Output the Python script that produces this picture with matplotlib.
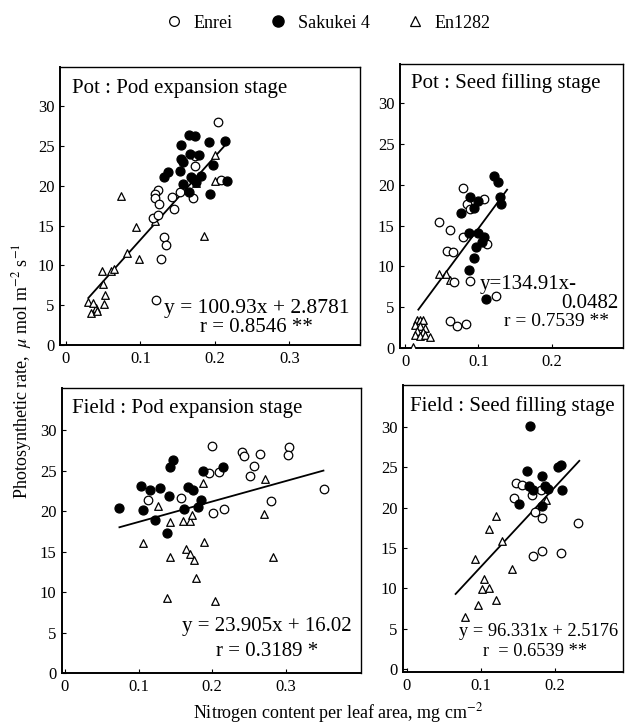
import matplotlib
matplotlib.use('Agg')
import matplotlib.pyplot as plt
from matplotlib.lines import Line2D

plt.rcParams['font.family'] = ['Liberation Serif', 'DejaVu Serif']
plt.rcParams['mathtext.fontset'] = 'stix'

# ---------------- data ----------------
legend_labels = ["Enrei", "Sakukei 4", "En1282"]

# Pot : Pod expansion stage
pp_enrei_x = [0.204, 0.173, 0.208, 0.124, 0.119, 0.119, 0.125, 0.143, 0.145, 0.153, 0.171, 0.117, 0.124, 0.132, 0.134, 0.128, 0.121, 0.173]
pp_enrei_y = [28.0, 22.5, 20.7, 19.5, 18.9, 18.5, 17.7, 18.6, 17.1, 19.2, 18.5, 16.0, 16.3, 13.5, 12.5, 10.8, 5.7, 23.7]
pp_sak_x = [0.1655, 0.173, 0.155, 0.192, 0.214, 0.1665, 0.179, 0.155, 0.157, 0.198, 0.1365, 0.132, 0.153, 0.168, 0.182, 0.171, 0.1575, 0.1655, 0.194, 0.217, 0.1745]
pp_sak_y = [26.4, 26.2, 25.1, 25.5, 25.6, 24.0, 23.9, 23.4, 23.0, 22.6, 21.7, 21.1, 21.8, 21.1, 21.2, 20.8, 20.2, 19.2, 19.0, 20.6, 20.5]
pp_en_x = [0.0734, 0.094, 0.098, 0.0815, 0.049, 0.060, 0.064, 0.050, 0.052, 0.051, 0.040, 0.033, 0.030, 0.036, 0.042, 0.200, 0.200, 0.175, 0.186, 0.119]
pp_en_y = [18.7, 14.8, 10.75, 11.6, 9.3, 9.3, 9.5, 7.65, 6.3, 5.2, 4.6, 4.05, 5.35, 5.3, 4.3, 23.8, 20.6, 20.3, 13.7, 15.6]
pp_fit_x = [0.030, 0.213]
pp_fit_y = [5.9, 25.0]

# Pot : Seed filling stage
ps_enrei_x = [0.0787, 0.084, 0.0887, 0.107, 0.0455, 0.0605, 0.0787, 0.0577, 0.065, 0.0668, 0.0878, 0.111, 0.124, 0.0605, 0.0705, 0.083]
ps_enrei_y = [19.6, 17.7, 17.0, 18.2, 15.4, 14.5, 13.6, 11.9, 11.8, 8.1, 8.25, 12.8, 6.4, 3.35, 2.7, 3.0]
ps_sak_x = [0.1205, 0.126, 0.0887, 0.0987, 0.094, 0.076, 0.1287, 0.131, 0.0864, 0.0987, 0.107, 0.1046, 0.097, 0.094, 0.0864, 0.1105]
ps_sak_y = [21.1, 20.4, 18.5, 18.05, 17.1, 16.5, 18.5, 17.7, 14.05, 14.1, 13.6, 13.0, 12.4, 11.0, 9.6, 5.96]
ps_en_x = [0.0468, 0.056, 0.0614, 0.016, 0.0205, 0.025, 0.0138, 0.0205, 0.027, 0.016, 0.024, 0.0138, 0.0205, 0.027, 0.034, 0.0113]
ps_en_y = [9.07, 9.07, 8.3, 3.43, 3.43, 3.4, 2.8, 2.65, 2.45, 2.1, 2.0, 1.6, 1.5, 1.6, 1.3, 0.16]
ps_fit_x = [0.018, 0.139]
ps_fit_y = [4.7, 19.4]

# Field : Pod expansion stage
fp_enrei_x = [0.199, 0.113, 0.158, 0.196, 0.2094, 0.201, 0.216, 0.241, 0.243, 0.2646, 0.257, 0.251, 0.304, 0.303, 0.2795, 0.352]
fp_enrei_y = [28.0, 21.4, 21.6, 24.65, 24.85, 19.7, 20.2, 27.3, 26.8, 27.1, 25.6, 24.3, 27.9, 26.9, 21.3, 22.75]
fp_sak_x = [0.0728, 0.1027, 0.1153, 0.1063, 0.122, 0.129, 0.141, 0.147, 0.1425, 0.139, 0.167, 0.174, 0.162, 0.181, 0.1845, 0.1877, 0.215]
fp_sak_y = [20.4, 23.1, 22.6, 20.1, 18.9, 22.8, 21.8, 26.3, 25.5, 17.3, 23.0, 22.6, 20.3, 20.5, 21.4, 24.9, 25.5]
fp_en_x = [0.126, 0.1877, 0.1425, 0.1605, 0.1696, 0.172, 0.1063, 0.1886, 0.1425, 0.165, 0.1696, 0.1755, 0.178, 0.138, 0.2035, 0.271, 0.270, 0.2827]
fp_en_y = [20.65, 23.5, 18.6, 18.8, 18.8, 19.5, 16.0, 16.2, 14.3, 15.3, 14.7, 13.9, 11.7, 9.3, 8.9, 23.9, 19.6, 14.3]
fp_fit_x = [0.074, 0.351]
fp_fit_y = [18.0, 25.0]

# Field : Seed filling stage
fs_enrei_x = [0.148, 0.155, 0.1446, 0.1685, 0.1807, 0.173, 0.182, 0.2307, 0.1707, 0.182, 0.2077]
fs_enrei_y = [23.1, 22.8, 21.15, 21.6, 22.2, 19.4, 18.7, 18.1, 14.0, 14.6, 14.4]
fs_sak_x = [0.166, 0.1626, 0.1833, 0.2077, 0.2045, 0.165, 0.170, 0.1865, 0.191, 0.1518, 0.182, 0.2095]
fs_sak_y = [30.1, 24.5, 23.9, 25.3, 25.0, 22.7, 22.2, 22.7, 22.3, 20.5, 20.2, 22.2]
fs_en_x = [0.120, 0.111, 0.128, 0.0919, 0.142, 0.104, 0.102, 0.111, 0.120, 0.0964, 0.0793, 0.188]
fs_en_y = [19.0, 17.3, 15.9, 13.6, 12.4, 11.2, 9.9, 10.0, 8.55, 7.9, 6.4, 20.9]
fs_fit_x = [0.066, 0.233]
fs_fit_y = [9.3, 25.8]

# ---------------- figure ----------------
W, H = 625, 726
fig = plt.figure(figsize=(W / 100, H / 100), dpi=100)

def fx(px):
    return px / W

def fy(py):
    return 1 - py / H

def make_ax(l, r, t, b, xlim, ylim, xticks):
    ax = fig.add_axes([fx(l), fy(b), (r - l) / W, (b - t) / H])
    ax.set_xlim(*xlim)
    ax.set_ylim(*ylim)
    ax.set_xticks(xticks)
    ax.set_xticklabels(["0" if v == 0 else f"{v:.1f}" for v in xticks])
    ax.set_yticks([0, 5, 10, 15, 20, 25, 30])
    ax.tick_params(direction='in', length=3, width=0.8, labelsize=12, pad=4,
                   top=False, right=False)
    for s in ax.spines.values():
        s.set_linewidth(1.0)
    ax.spines['left'].set_linewidth(1.4)
    ax.spines['bottom'].set_linewidth(1.4)
    return ax

def draw(ax, ex, ey, sx, sy, tx, ty, fitx, fity):
    ax.plot(fitx, fity, color='black', lw=1.3, zorder=2)
    ax.scatter(tx, ty, marker='^', s=30, facecolors='white', edgecolors='black', linewidths=0.9, zorder=3)
    ax.scatter(ex, ey, marker='o', s=38, facecolors='white', edgecolors='black', linewidths=0.9, zorder=3)
    ax.scatter(sx, sy, marker='o', s=42, facecolors='black', edgecolors='black', linewidths=0.9, zorder=4)

ax1 = make_ax(60, 360, 67, 345, (-0.008, 0.395), (0, 34.9), [0, 0.1, 0.2, 0.3])
draw(ax1, pp_enrei_x, pp_enrei_y, pp_sak_x, pp_sak_y, pp_en_x, pp_en_y, pp_fit_x, pp_fit_y)

ax2 = make_ax(400, 623, 64, 348, (-0.007, 0.297), (0, 34.8), [0, 0.1, 0.2])
draw(ax2, ps_enrei_x, ps_enrei_y, ps_sak_x, ps_sak_y, ps_en_x, ps_en_y, ps_fit_x, ps_fit_y)

ax3 = make_ax(62, 361, 388, 673, (-0.004, 0.402), (0, 35.2), [0, 0.1, 0.2, 0.3])
draw(ax3, fp_enrei_x, fp_enrei_y, fp_sak_x, fp_sak_y, fp_en_x, fp_en_y, fp_fit_x, fp_fit_y)

ax4 = make_ax(403, 623, 385, 672, (-0.005, 0.292), (-0.37, 35.2), [0, 0.1, 0.2])
draw(ax4, fs_enrei_x, fs_enrei_y, fs_sak_x, fs_sak_y, fs_en_x, fs_en_y, fs_fit_x, fs_fit_y)

# panel titles
TS = 15
fig.text(fx(72), fy(88), "Pot : Pod expansion stage", fontsize=TS, ha='left', va='center')
fig.text(fx(411), fy(83), "Pot : Seed filling stage", fontsize=TS, ha='left', va='center')
fig.text(fx(72), fy(408), "Field : Pod expansion stage", fontsize=TS, ha='left', va='center')
fig.text(fx(410), fy(406), "Field : Seed filling stage", fontsize=TS, ha='left', va='center')

# equations
fig.text(fx(257), fy(308), "y = 100.93x + 2.8781", fontsize=15.5, ha='center', va='center')
fig.text(fx(256), fy(328), "r = 0.8546 **", fontsize=15, ha='center', va='center')
fig.text(fx(480), fy(285), "y=134.91x-", fontsize=15, ha='left', va='center')
fig.text(fx(618), fy(304), "0.0482", fontsize=15, ha='right', va='center')
fig.text(fx(556), fy(322), "r = 0.7539 **", fontsize=14, ha='center', va='center')
fig.text(fx(267), fy(627), "y = 23.905x + 16.02", fontsize=15, ha='center', va='center')
fig.text(fx(267), fy(651), "r = 0.3189 *", fontsize=15, ha='center', va='center')
fig.text(fx(539), fy(632), "y = 96.331x + 2.5176", fontsize=13.2, ha='center', va='center')
fig.text(fx(535), fy(652), "r  = 0.6539 **", fontsize=13.2, ha='center', va='center')

# axis labels
fig.text(fx(22), fy(371), r"Photosynthetic rate,  $\mu$ mol m$^{-2}$ s$^{-1}$",
         fontsize=13, rotation=90, ha='center', va='center')
fig.text(fx(338), fy(713), r"Nitrogen content per leaf area, mg cm$^{-2}$",
         fontsize=13, ha='center', va='center')

# legend
handles = [
    Line2D([], [], ls='none', marker='o', markersize=7, markerfacecolor='white', markeredgecolor='black', markeredgewidth=0.9),
    Line2D([], [], ls='none', marker='o', markersize=8, markerfacecolor='black', markeredgecolor='black'),
    Line2D([], [], ls='none', marker='^', markersize=7, markerfacecolor='white', markeredgecolor='black', markeredgewidth=0.9),
]
fig.legend(handles, legend_labels, loc='center', bbox_to_anchor=(fx(328), fy(23)), ncol=3,
           frameon=False, fontsize=13, handlelength=1.0, handletextpad=0.6, columnspacing=2.0)

fig.savefig("out.png", dpi=100)
